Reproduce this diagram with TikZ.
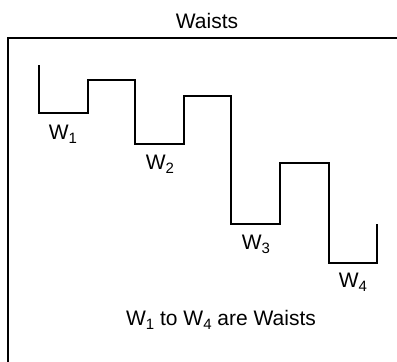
\documentclass[tikz,border=0pt]{standalone}
\usepackage{fontspec}
\setmainfont{Liberation Sans}
\newcommand\sbs[1]{\raisebox{-0.35ex}{\fontsize{15}{15}\selectfont #1}}
\begin{document}
\begin{tikzpicture}[x=1pt,y=-1pt,
  lbl/.style={font=\fontsize{21}{24}\selectfont, inner sep=0pt},
  frame/.style={line width=1.6pt},
  stair/.style={line width=2.4pt, line join=miter}]
\useasboundingbox (0,0) rectangle (397,362);
\node[lbl] (title) at (207,21) {Waists};
\draw[frame] (8,362) -- (8,38) -- (397,38);
\draw[stair] (39,65) -- (39,113) -- (88,113) -- (88,80) -- (135,80) -- (135,144)
  -- (184,144) -- (184,96) -- (231,96) -- (231,224) -- (280,224) -- (280,163)
  -- (329,163) -- (329,263) -- (377,263) -- (377,224);
\node[lbl] (w1) at (63,134) {W\sbs{1}};
\node[lbl] (w2) at (160,164) {W\sbs{2}};
\node[lbl] (w3) at (256,244) {W\sbs{3}};
\node[lbl] (w4) at (353,282) {W\sbs{4}};
\node[lbl] (note) at (221,320) {W\sbs{1} to W\sbs{4} are Waists};
\end{tikzpicture}
\end{document}
